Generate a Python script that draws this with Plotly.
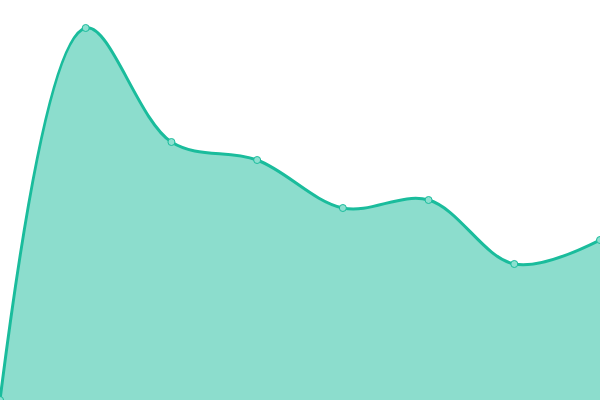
import plotly.graph_objects as go

x_vals = [0, 1, 2, 3, 4, 5, 6, 7]
y_vals = [0, 93, 64.5, 60, 48, 50, 34, 40]

fig = go.Figure()
fig.add_trace(go.Scatter(
    x=x_vals, y=y_vals,
    mode="lines+markers",
    line=dict(color="#1abc9c", width=3, shape="spline", smoothing=1.0),
    fill="tozeroy",
    fillcolor="rgba(26,188,156,0.5)",
    marker=dict(size=7, color="#8ce0d0", line=dict(color="#1abc9c", width=1)),
    hoverinfo="skip",
))
fig.update_layout(
    width=600, height=400,
    margin=dict(l=0, r=0, t=0, b=0),
    paper_bgcolor="white", plot_bgcolor="white",
    showlegend=False,
    xaxis=dict(visible=False, range=[0, 7]),
    yaxis=dict(visible=False, range=[0, 100]),
)
fig.write_html(
    "out.html",
    config={"displayModeBar": False},
    post_script="document.body.style.margin='0';document.body.style.overflow='hidden';",
)
